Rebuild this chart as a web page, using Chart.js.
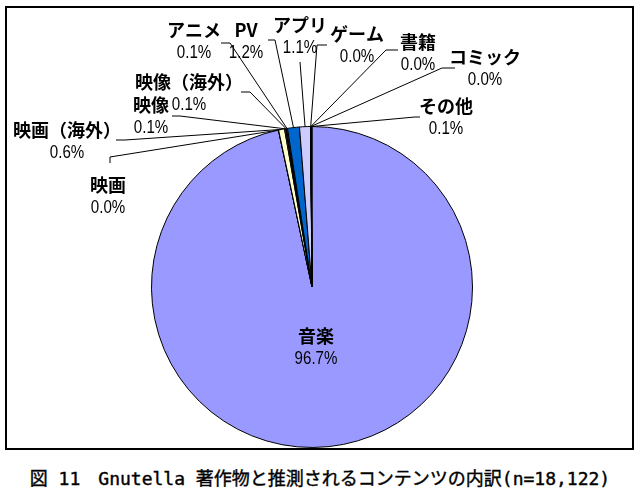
<!DOCTYPE html>
<html>
<head>
<meta charset="utf-8">
<script src="https://cdn.jsdelivr.net/npm/chart.js@4/dist/chart.umd.min.js"></script>
<style>
  body { margin: 0; background: #fff; width: 640px; height: 504px; overflow: hidden; }
  #wrap { position: absolute; left: 0; top: 0; width: 640px; height: 460px; }
  #caption {
    position: absolute; left: 0; top: 464px; width: 640px; text-align: center;
    font-family: "DejaVu Sans Mono", "Noto Sans CJK JP", monospace;
    font-size: 18px; font-weight: normal; color: #000; white-space: pre;
    -webkit-text-stroke: 0.4px #000;
  }
</style>
</head>
<body>
<div id="wrap"><canvas id="pieChart"></canvas></div>
<div id="caption">図 11　Gnutella 著作物と推測されるコンテンツの内訳(n=18,122)</div>
<script>
// Data (share of detected files, %)
const categories = ['音楽', '映画', '映画（海外）', '映像', '映像（海外）', 'アニメ', 'PV', 'アプリ', 'ゲーム', '書籍', 'コミック', 'その他'];
const shares = [96.7, 0.02, 0.6, 0.1, 0.1, 0.1, 1.2, 1.1, 0.02, 0.01, 0.01, 0.1];
const sliceColors = ['#9999FF', '#993366', '#FFFFCC', '#CCFFFF', '#660066', '#FF8080', '#0066CC', '#CCCCFF', '#000080', '#000080', '#000080', '#000080'];

// Label placement: text centre of the name line, and leader points after the rim
const labelLayout = [
    { x: 316, y: 336, leader: null },
    { x: 108, y: 185, leader: [[110, 157], [110, 163]] },
    { x: 67, y: 130, leader: [[125, 140], [116, 140]] },
    { x: 151, y: 105, leader: [[180, 116], [172, 116]] },
    { x: 189, y: 82, leader: [[250, 92], [241, 92]] },
    { x: 194, y: 30, leader: [[230, 43], [221, 43]] },
    { x: 246, y: 30, leader: [[275, 40], [268, 40]] },
    { x: 300, y: 25, leader: [[300, 62]] },
    { x: 357, y: 34, leader: [[317, 45], [327, 45]] },
    { x: 418, y: 42, leader: [[386, 50], [398, 50]] },
    { x: 485, y: 57, leader: [[442, 68], [455, 68]] },
    { x: 446, y: 106, leader: [[415, 117], [420, 117]] }
];

// Frame + white background
const framePlugin = {
    id: 'frame',
    beforeDraw(chart) {
        const ctx = chart.ctx;
        ctx.save();
        ctx.fillStyle = '#fff';
        ctx.fillRect(0, 0, chart.width, chart.height);
        ctx.strokeStyle = '#000';
        ctx.lineWidth = 2;
        ctx.strokeRect(6, 7, 627, 442);
        ctx.restore();
    }
};

// Leader lines and data labels
const labelPlugin = {
    id: 'pieLabels',
    afterDraw(chart) {
        const ctx = chart.ctx;
        const arcs = chart.getDatasetMeta(0).data;
        ctx.save();
        arcs.forEach((arc, i) => {
            const lay = labelLayout[i];
            const p = arc.getProps(['x', 'y', 'startAngle', 'endAngle', 'outerRadius'], true);
            if (lay.leader) {
                const mid = (p.startAngle + p.endAngle) / 2;
                ctx.strokeStyle = '#000';
                ctx.lineWidth = 1;
                ctx.beginPath();
                ctx.moveTo(p.x + Math.cos(mid) * p.outerRadius, p.y + Math.sin(mid) * p.outerRadius);
                lay.leader.forEach(pt => ctx.lineTo(pt[0], pt[1]));
                ctx.stroke();
            }
            ctx.fillStyle = '#000';
            ctx.textAlign = 'center';
            ctx.textBaseline = 'middle';
            ctx.font = 'bold 18px "Noto Sans CJK JP"';
            ctx.fillText(categories[i], lay.x, lay.y);
            // narrow-looking percentage text
            ctx.save();
            ctx.translate(lay.x, lay.y + 23);
            ctx.scale(0.84, 1);
            ctx.font = '18px "Liberation Sans", "Noto Sans CJK JP"';
            ctx.fillText(shares[i].toFixed(1) + '%', 0, 0);
            ctx.restore();
        });
        ctx.restore();
    }
};

const ctx = document.getElementById('pieChart').getContext('2d');
new Chart(ctx, {
    type: 'pie',
    data: {
        labels: categories,
        datasets: [{
            data: shares,
            backgroundColor: sliceColors,
            borderColor: '#000',
            borderWidth: 1
        }]
    },
    options: {
        responsive: true,
        maintainAspectRatio: false,
        animation: false,
        layout: { padding: { left: 151, right: 167, top: 126, bottom: 12 } },
        plugins: {
            legend: { display: false },
            tooltip: { enabled: false }
        }
    },
    plugins: [framePlugin, labelPlugin]
});
</script>
</body>
</html>
